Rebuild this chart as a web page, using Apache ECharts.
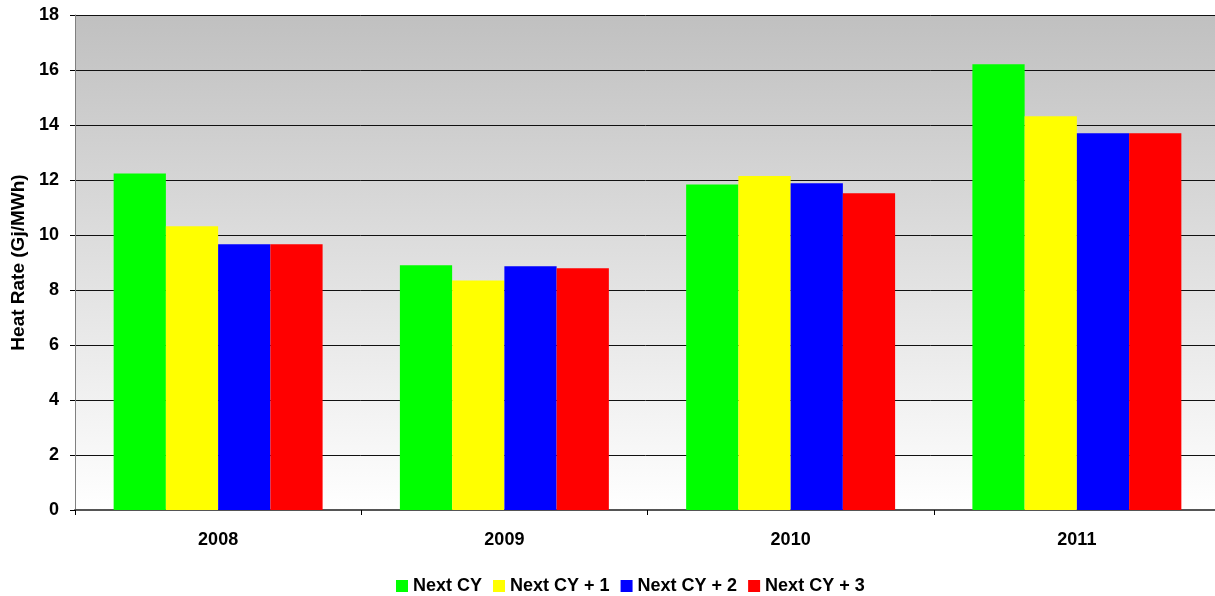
<!DOCTYPE html>
<html>
<head>
<meta charset="utf-8">
<script src="https://cdn.jsdelivr.net/npm/echarts@6/dist/echarts.min.js"></script>
<style>
  html, body { margin: 0; padding: 0; background: #fff; }
  #main { width: 1215px; height: 596px; }
</style>
</head>
<body>
<div id="main"></div>
<script>
// values
var years = ["2008", "2009", "2010", "2011"];
var nextCY = [12.24, 8.90, 11.84, 16.21];
var nextCY1 = [10.32, 8.35, 12.15, 14.32];
var nextCY2 = [9.66, 8.86, 11.88, 13.70];
var nextCY3 = [9.66, 8.79, 11.52, 13.70];
var seriesNames = ["Next CY", "Next CY + 1", "Next CY + 2", "Next CY + 3"];
var seriesColors = ["#00ff00", "#ffff00", "#0000ff", "#ff0000"];

var font = "Liberation Sans, Arial, sans-serif";
var myChart = echarts.init(document.getElementById("main"));

var allData = [nextCY, nextCY1, nextCY2, nextCY3];
var series = allData.map(function (d, i) {
  return {
    name: seriesNames[i],
    type: "bar",
    data: d,
    barGap: "0%",
    barCategoryGap: "27%",
    itemStyle: { color: seriesColors[i] }
  };
});

myChart.setOption({
  animation: false,
  textStyle: { fontFamily: font },
  grid: {
    left: 75,
    top: 15,
    width: 1145,
    height: 495,
    outerBoundsMode: "none",
    show: true,
    borderWidth: 0,
    backgroundColor: {
      type: "linear", x: 0, y: 0, x2: 0, y2: 1,
      colorStops: [
        { offset: 0, color: "#c0c0c0" },
        { offset: 1, color: "#ffffff" }
      ]
    }
  },
  legend: {
    data: seriesNames,
    top: 572,
    left: 391,
    icon: "rect",
    itemWidth: 12,
    itemHeight: 12,
    itemGap: 11,
    textStyle: { fontFamily: font, fontWeight: "bold", fontSize: 18, color: "#000" }
  },
  xAxis: {
    type: "category",
    data: years,
    axisLine: { lineStyle: { color: "#555", width: 2 } },
    axisTick: { show: true, length: 5, lineStyle: { color: "#000" } },
    axisLabel: { fontFamily: font, fontWeight: "bold", fontSize: 18, color: "#000", margin: 21 },
    splitLine: { show: false }
  },
  yAxis: {
    type: "value",
    min: 0,
    max: 18,
    interval: 2,
    name: "Heat Rate (Gj/MWh)",
    nameLocation: "middle",
    nameGap: 46,
    nameTextStyle: { fontFamily: font, fontWeight: "bold", fontSize: 19, color: "#000" },
    axisLine: { show: true, lineStyle: { color: "#808080", width: 1 } },
    axisTick: { show: true, length: 5, lineStyle: { color: "#000" } },
    axisLabel: { fontFamily: font, fontWeight: "bold", fontSize: 18, color: "#000", margin: 16 },
    splitLine: { show: true, lineStyle: { color: "#111", width: 1 } }
  },
  series: series
});
</script>
</body>
</html>
